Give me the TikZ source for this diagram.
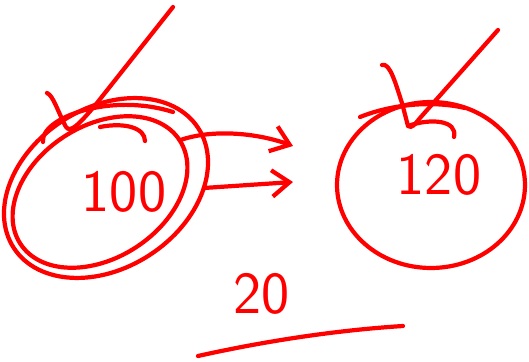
\documentclass[tikz,border=0pt]{standalone}
\usepackage{tikz}
\usetikzlibrary{arrows.meta,positioning,shapes.geometric,calc}
\definecolor{inkred}{HTML}{FF0000}
\tikzset{
  ink/.style={inkred, line width=2.4pt, line cap=round, line join=round},
  ring/.style={ink, draw, ellipse, inner sep=0pt, outer sep=0pt},
  digits/.style={inkred, font=\sffamily\fontsize{34}{34}\selectfont, inner sep=0pt},
  barb/.style={-{Straight Barb[length=10pt,width=15pt]}}
}

\begin{document}
\begin{tikzpicture}[x=0.02cm,y=-0.02cm]
\useasboundingbox (0,0) rectangle (529,362);

% Left value: double ring, tilted
\node[ring, rotate=33, minimum width=4.4cm, minimum height=3.2cm] (outer) at (106,188) {};
\node[ring, rotate=33, minimum width=3.8cm, minimum height=2.64cm] (inner) at (100,192) {};
\node[digits] (oldval) at (124,192) {100};

% strokes over the top of the left ring
\draw[ink] (43,142) .. controls (40,118) and (110,92) .. (173,112);
\draw[ink] (100,127) .. controls (125,122) and (145,128) .. (145,141);

% Left tick
\draw[ink] (47,93) .. controls (53,95) and (58,112) .. (66,127)
    .. controls (70,133) and (78,126) .. (97,103) -- (173,7);

% Arrows to the right
\coordinate (upto) at (293,146);
\coordinate (lowto) at (293,182);
\draw[ink, barb] (inner.east) .. controls (215,128) and (260,134) .. (upto);
\draw[ink, barb] (outer.-33) -- (lowto);

% Right value: single ring
\node[ring, minimum width=3.76cm, minimum height=3.32cm] (newring) at (431,185) {};
\node[digits] (newval) at (439,175) {120};

% strokes over the top of the right ring
\draw[ink] (360,117) .. controls (390,105) and (430,100) .. (465,108);
\draw[ink] (408,126) .. controls (430,118) and (458,120) .. (454,137);

% Right tick
\draw[ink] (382,65) .. controls (390,62) and (396,85) .. (402,103) -- (408,126)
    .. controls (412,129) and (415,124) .. (420,118) -- (498,30);

% Difference, underlined
\node[digits] (diff) at (262,294) {20};
\draw[ink] (198,356) .. controls (270,340) and (340,330) .. (403,326);
\end{tikzpicture}
\end{document}
